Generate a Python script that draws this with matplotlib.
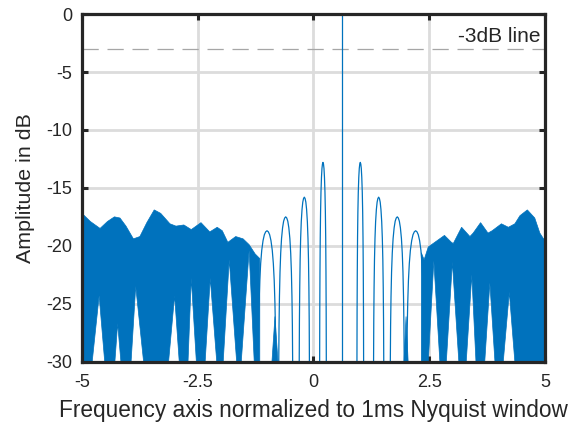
import numpy as np
import matplotlib.pyplot as plt

plt.rcParams['font.family'] = ['Liberation Sans', 'DejaVu Sans']
plt.rcParams['axes.unicode_minus'] = False

blue = '#0072BD'
dark = '#262626'
floor_db = -30

# upper edge of the dense sidelobe band, left side
left_env_x = [-5.0, -4.82, -4.61, -4.45, -4.30, -4.18, -4.05, -3.89, -3.75, -3.60,
              -3.44, -3.30, -3.10, -2.97, -2.80, -2.64, -2.43, -2.24, -2.08, -1.97,
              -1.85, -1.68, -1.52, -1.39, -1.26, -1.16]
left_env_db = [-17.2, -17.9, -18.5, -17.9, -17.5, -17.6, -18.3, -19.4, -19.2, -18.0,
               -16.9, -17.2, -18.1, -18.3, -18.2, -18.6, -18.0, -18.8, -18.4, -18.7,
               -19.7, -19.2, -19.4, -19.9, -20.7, -21.1]

# upper edge of the dense sidelobe band, right side
right_env_x = [2.33, 2.39, 2.48, 2.62, 2.83, 2.98, 3.02, 3.20, 3.38, 3.45, 3.61,
               3.77, 3.86, 4.06, 4.21, 4.35, 4.46, 4.62, 4.78, 4.89, 4.97, 5.0]
right_env_db = [-20.6, -21.2, -20.1, -19.7, -19.1, -19.7, -19.8, -18.4, -19.2, -18.9, -18.0,
                -18.9, -18.7, -18.1, -18.4, -18.1, -17.4, -16.9, -17.6, -18.9, -19.4, -19.4]

# gaps below the bands: apex position, apex level, left and right foot
left_gap_x = [-4.63, -4.23, -3.84, -3.00, -2.64, -2.23, -1.82, -1.39]
left_gap_db = [-24.3, -26.7, -23.5, -24.3, -22.8, -22.8, -21.2, -20.4]
left_gap_lo = [-4.78, -4.29, -3.94, -3.13, -2.71, -2.34, -1.95, -1.56]
left_gap_hi = [-4.51, -4.16, -3.67, -2.90, -2.53, -2.09, -1.66, -1.28]

right_gap_x = [2.60, 3.00, 3.42, 3.81, 4.23]
right_gap_db = [-21.3, -21.4, -22.5, -23.2, -24.0]
right_gap_lo = [2.48, 2.87, 3.30, 3.70, 4.10]
right_gap_hi = [2.73, 3.14, 3.51, 3.92, 4.35]

# isolated lobes around the carrier
lobe_x = [-1.004, -0.600, -0.198, 0.205, 1.011, 1.408, 1.810, 2.207]
lobe_db = [-18.7, -17.5, -15.8, -12.8, -12.8, -15.8, -17.5, -18.7]
lobe_hw = [0.19, 0.15, 0.11, 0.072, 0.072, 0.11, 0.15, 0.19]

# short dense feet next to the outer lobes
foot_x = [-0.832, 2.00]
foot_db = [-26.1, -26.1]
foot_hw = [0.065, 0.045]

carrier_x = 0.609
carrier_db = 0.0

# lobe outline: offset (share of half width) and drop (share of depth to floor)
arch_u = [0.0, 0.15, 0.3, 0.45, 0.6, 0.72, 0.82, 0.9, 0.96, 1.0]
arch_f = [0.0, 0.008, 0.03, 0.075, 0.15, 0.25, 0.38, 0.55, 0.75, 1.0]

xticks = [-5, -2.5, 0, 2.5, 5]
xtick_labels = ['-5', '-2.5', '0', '2.5', '5']
yticks = [0, -5, -10, -15, -20, -25, -30]


def band(ax, ex, ey, gx, gy, glo, ghi):
    px = list(ex) + [ex[-1]]
    py = list(ey) + [floor_db]
    for a, d, lo, hi in sorted(zip(gx, gy, glo, ghi), reverse=True):
        px += [hi, a, lo]
        py += [floor_db, d, floor_db]
    px.append(ex[0])
    py.append(floor_db)
    ax.fill(px, py, color=blue, lw=0.5, zorder=3)


fig = plt.figure(figsize=(5.68, 4.28), dpi=100)
ax = fig.add_axes([0.1444, 0.155, 0.815, 0.812])

band(ax, left_env_x, left_env_db, left_gap_x, left_gap_db, left_gap_lo, left_gap_hi)
band(ax, right_env_x, right_env_db, right_gap_x, right_gap_db, right_gap_lo, right_gap_hi)

u = np.array(arch_u)
f = np.array(arch_f)
us = np.concatenate([-u[::-1], u[1:]])
fs = np.concatenate([f[::-1], f[1:]])
for c, pk, hw in zip(lobe_x, lobe_db, lobe_hw):
    ax.plot(c + hw * us, pk - fs * (pk - floor_db), color=blue, lw=0.9, zorder=3)

for c, pk, hw in zip(foot_x, foot_db, foot_hw):
    ax.fill([c - hw, c, c + hw], [floor_db, pk, floor_db], color=blue, lw=0.5, zorder=3)

ax.plot([carrier_x, carrier_x], [carrier_db, floor_db], color=blue, lw=0.9, zorder=3)

# -3 dB reference
ax.axhline(-3, color='#a6a6a6', lw=0.9, ls=(0, (13, 7)), zorder=2)
ax.text(4.9, -1.9, '-3dB line', ha='right', va='center', fontsize=15, color=dark)

ax.set_xlim(-5, 5)
ax.set_ylim(-30, 0)
ax.set_xticks(xticks)
ax.set_xticklabels(xtick_labels)
ax.set_yticks(yticks)
ax.grid(True, color='#dcdcdc', lw=2.0)
ax.set_axisbelow(True)
ax.tick_params(direction='in', length=4, width=2.2, colors=dark, labelsize=13,
               top=True, right=True)
ax.tick_params(axis='x', pad=9)
ax.tick_params(axis='y', pad=7)
for s in ax.spines.values():
    s.set_linewidth(2.3)
    s.set_color(dark)
    s.set_zorder(5)

ax.set_xlabel('Frequency axis normalized to 1ms Nyquist window', fontsize=16.3, color=dark, labelpad=6)
ax.set_ylabel('Amplitude in dB', fontsize=15.4, color=dark, labelpad=8)

fig.savefig('out.png', dpi=100)
